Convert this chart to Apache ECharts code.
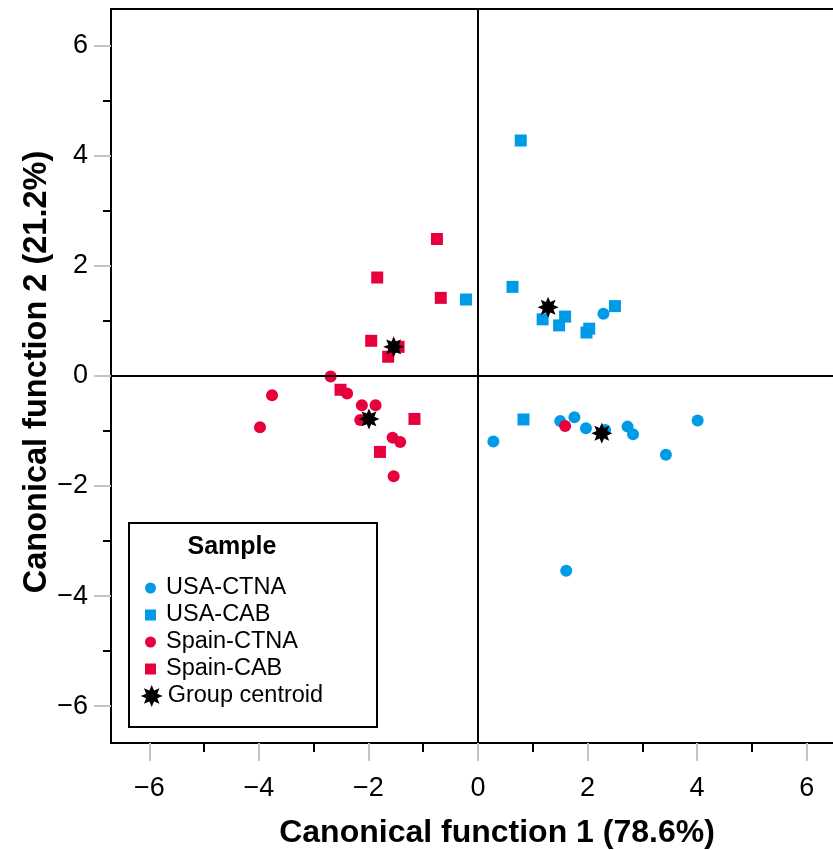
<!DOCTYPE html>
<html>
<head>
<meta charset="utf-8">
<style>
  html, body { margin: 0; padding: 0; background: #fff; }
  #chart { width: 833px; height: 850px; }
</style>
<script src="https://cdn.jsdelivr.net/npm/echarts@6/dist/echarts.min.js"></script>
</head>
<body>
<div id="chart"></div>
<script>
// --- data ---
var usaCtna = [[0.28,-1.19],[1.50,-0.82],[1.76,-0.75],[1.97,-0.95],[2.32,-0.98],[2.73,-0.92],
  [2.83,-1.06],[3.43,-1.43],[4.01,-0.81],[1.61,-3.54],[2.29,1.13]];
var usaCab = [[0.78,4.28],[0.63,1.62],[-0.22,1.39],[1.18,1.03],[1.59,1.08],[1.48,0.92],
  [2.03,0.86],[1.98,0.79],[2.50,1.27],[0.83,-0.79]];
var spainCtna = [[-2.69,-0.01],[-3.76,-0.35],[-2.39,-0.32],[-2.12,-0.53],[-1.87,-0.53],[-3.98,-0.93],
  [-2.15,-0.80],[-1.56,-1.12],[-1.42,-1.20],[-1.54,-1.82],[1.59,-0.91]];
var spainCab = [[-0.75,2.49],[-1.84,1.79],[-0.68,1.42],[-1.95,0.64],[-1.45,0.53],[-1.64,0.35],
  [-2.51,-0.25],[-1.16,-0.78],[-1.79,-1.38]];
var centroids = [[-1.54,0.53],[-1.99,-0.78],[1.28,1.25],[2.26,-1.04]];

var majorTicks = [-6, -4, -2, 0, 2, 4, 6];
var minorTicks = [-5, -3, -1, 1, 3, 5];

var blue = '#009BE6';
var red = '#E8003D';
var font = 'Liberation Sans, Arial, sans-serif';

// 8-pointed star used for the group centroids
function starPath() {
  var d = '';
  for (var i = 0; i < 16; i++) {
    var a = Math.PI * i / 8 - Math.PI / 2;
    var r = i % 2 === 0 ? 10 : 5.5;
    d += (i === 0 ? 'M' : 'L') + (r * Math.cos(a)).toFixed(3) + ',' + (r * Math.sin(a)).toFixed(3);
  }
  return 'path://' + d + 'Z';
}
var star = starPath();

function minus(v) { return String(v).replace('-', '\u2212'); }

var chart = echarts.init(document.getElementById('chart'), null, { renderer: 'canvas' });
chart.setOption({
  animation: false,
  grid: {
    left: 111, top: 9, right: -17.5, bottom: 107,
    outerBoundsMode: 'none',
    show: true, borderColor: '#000', borderWidth: 2
  },
  xAxis: [{
    type: 'value', min: -6.7, max: 6.8, position: 'bottom',
    splitLine: { show: false },
    axisLine: { show: true, onZero: false, lineStyle: { color: '#000', width: 2 } },
    axisTick: { show: true, customValues: majorTicks, length: 18, lineStyle: { color: '#c4c4c4', width: 2 } },
    axisLabel: { customValues: majorTicks, formatter: minus, margin: 32, fontSize: 27, color: '#000', fontFamily: font }
  }, {
    type: 'value', min: -6.7, max: 6.8, position: 'bottom',
    splitLine: { show: false },
    axisLine: { show: false, onZero: false },
    axisTick: { show: true, customValues: minorTicks, length: 9, lineStyle: { color: '#000', width: 2 } },
    axisLabel: { show: false }
  }],
  yAxis: [{
    type: 'value', min: -6.67, max: 6.67, position: 'left',
    splitLine: { show: false },
    axisLine: { show: true, onZero: false, lineStyle: { color: '#000', width: 2 } },
    axisTick: { show: true, customValues: majorTicks, length: 17, lineStyle: { color: '#c4c4c4', width: 2 } },
    axisLabel: { customValues: majorTicks, formatter: minus, margin: 23, fontSize: 27, color: '#000', fontFamily: font }
  }, {
    type: 'value', min: -6.67, max: 6.67, position: 'left',
    splitLine: { show: false },
    axisLine: { show: false, onZero: false },
    axisTick: { show: true, customValues: minorTicks, length: 8, lineStyle: { color: '#000', width: 2 } },
    axisLabel: { show: false }
  }],
  legend: [{
    orient: 'vertical', left: 140, top: 571, itemGap: 3,
    itemWidth: 11, itemHeight: 11,
    data: ['USA-CTNA', 'USA-CAB', 'Spain-CTNA', 'Spain-CAB'],
    textStyle: { fontSize: 23.5, lineHeight: 23.5, color: '#000', fontFamily: font, padding: [0, 0, 0, 5] }
  }, {
    orient: 'vertical', left: 135.7, top: 679,
    itemWidth: 22, itemHeight: 22,
    data: ['Group centroid'],
    textStyle: { fontSize: 23.5, lineHeight: 23.5, color: '#000', fontFamily: font }
  }],
  graphic: [
    { type: 'rect', left: 128, top: 522, z: 1,
      shape: { width: 248, height: 204 },
      style: { fill: '#fff', stroke: '#000', lineWidth: 2 } },
    { type: 'text', x: 232, y: 547, z: 5,
      style: { text: 'Sample', font: 'bold 25px ' + font, fill: '#000', align: 'center', verticalAlign: 'middle' } },
    { type: 'text', x: 497, y: 833, z: 5,
      style: { text: 'Canonical function 1 (78.6%)', font: 'bold 32px ' + font, fill: '#000', align: 'center', verticalAlign: 'middle' } },
    { type: 'text', x: 37, y: 372, rotation: Math.PI / 2, z: 5,
      style: { text: 'Canonical function 2 (21.2%)', font: 'bold 32.5px ' + font, fill: '#000', align: 'center', verticalAlign: 'middle' } }
  ],
  series: [{
    name: 'USA-CTNA', type: 'scatter', symbol: 'circle', symbolSize: 12,
    itemStyle: { color: blue, opacity: 1 }, data: usaCtna,
    markLine: {
      silent: true, symbol: 'none', label: { show: false },
      lineStyle: { color: '#000', width: 2, type: 'solid' },
      data: [{ xAxis: 0 }, { yAxis: 0 }]
    }
  }, {
    name: 'USA-CAB', type: 'scatter', symbol: 'rect', symbolSize: 12,
    itemStyle: { color: blue, opacity: 1 }, data: usaCab
  }, {
    name: 'Spain-CTNA', type: 'scatter', symbol: 'circle', symbolSize: 12,
    itemStyle: { color: red, opacity: 1 }, data: spainCtna
  }, {
    name: 'Spain-CAB', type: 'scatter', symbol: 'rect', symbolSize: 12,
    itemStyle: { color: red, opacity: 1 }, data: spainCab
  }, {
    name: 'Group centroid', type: 'scatter', symbol: star, symbolSize: 21,
    itemStyle: { color: '#000', opacity: 1 }, data: centroids, z: 5
  }]
});
</script>
</body>
</html>
